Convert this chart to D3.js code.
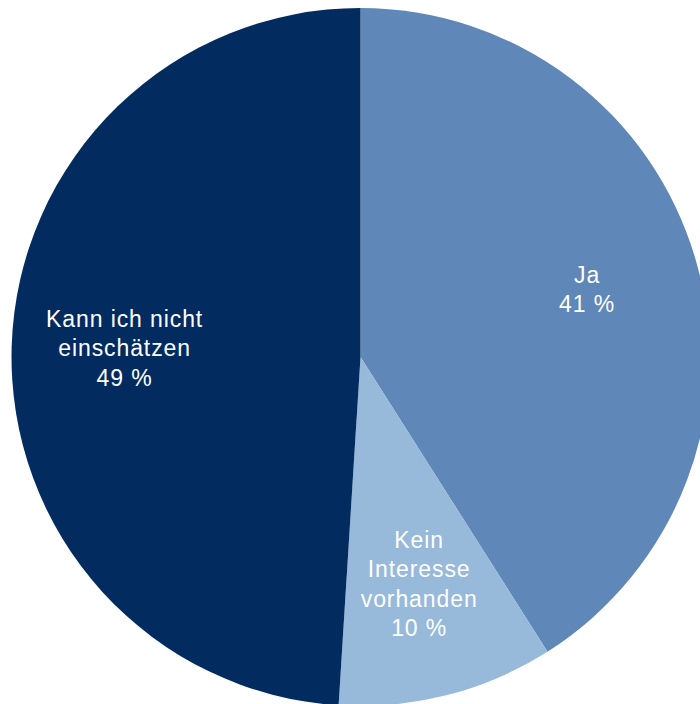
<!DOCTYPE html>
<html>
<head>
<meta charset="utf-8">
<script src="https://cdnjs.cloudflare.com/ajax/libs/d3/7.8.5/d3.min.js"></script>
<style>
  body { margin: 0; background: #fff; }
  svg { display: block; }
</style>
</head>
<body>
<div id="chart"></div>
<script>
(function () {

  // data
  var labels = [["Ja"], ["Kein", "Interesse", "vorhanden"], ["Kann ich nicht", "einschätzen"]];
  var values = [41, 10, 49];
  var colors = ["#5f87b8", "#97b9da", "#022c60"];

  var width = 700,
      height = 704,
      cx = 360.5,
      cy = 357,
      radius = 349;

  var svg = d3.select("#chart")
    .append("svg")
    .attr("width", width)
    .attr("height", height)
    .append("g")
    .attr("transform", "translate(" + cx + "," + cy + ")");

  var data = values.map(function (v, i) {
    return { value: v, lines: labels[i], color: colors[i] };
  });

  // keep the order, start at 12 o'clock, clockwise
  var pie = d3.pie()
    .sort(null)
    .value(function (d) { return d.value; });

  var arc = d3.arc().innerRadius(0).outerRadius(radius);
  var labelArc = d3.arc().innerRadius(236).outerRadius(236);

  var slices = svg.selectAll(".slice")
    .data(pie(data))
    .enter().append("g")
    .attr("class", "slice");

  slices.append("path")
    .attr("d", arc)
    .attr("fill", function (d) { return d.data.color; });

  // labels: name lines + percent
  var lineH = 29.5;
  slices.append("text")
    .attr("text-anchor", "middle")
    .attr("fill", "#fff")
    .style("font-family", "'Liberation Sans', Arial, Helvetica, sans-serif")
    .style("font-size", "23px")
    .style("letter-spacing", "0.9px")
    .each(function (d) {
      var c = labelArc.centroid(d);
      var lines = d.data.lines.concat([d.data.value + " %"]);
      var top = c[1] - (lines.length - 1) * lineH / 2 + 6.5;
      var t = d3.select(this);
      lines.forEach(function (l, i) {
        t.append("tspan")
          .attr("x", c[0])
          .attr("y", top + i * lineH)
          .text(l);
      });
    });

})();
</script>
</body>
</html>
